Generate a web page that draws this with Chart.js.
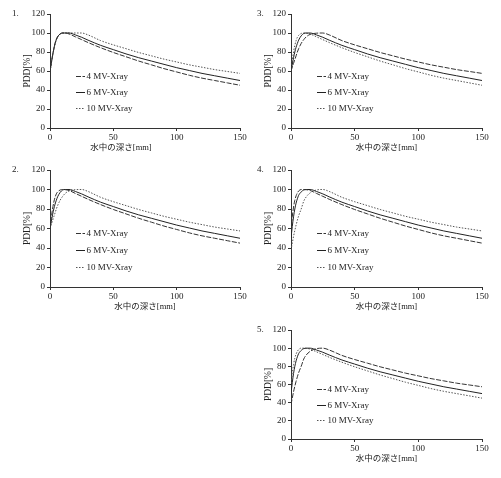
<!DOCTYPE html>
<html lang="ja">
<head>
<meta charset="UTF-8">
<title>PDD</title>
<script src="https://cdn.jsdelivr.net/npm/chart.js"></script>
<style>
  body { margin: 0; background: #fff; }
  #wrap { position: relative; width: 501px; height: 478px; }
  canvas { position: absolute; }
</style>
</head>
<body>
<div id="wrap">
  <canvas id="c1" width="252" height="158" style="left:0px;top:0px"></canvas>
  <canvas id="c3" width="253" height="158" style="left:241px;top:0px"></canvas>
  <canvas id="c2" width="252" height="161" style="left:0px;top:156px"></canvas>
  <canvas id="c4" width="253" height="161" style="left:241px;top:156px"></canvas>
  <canvas id="c5" width="253" height="153" style="left:241px;top:316px"></canvas>
</div>
<script>
// depth in water [mm]
const depth = [0, 1, 2, 3, 4, 5, 6, 8, 10, 12, 15, 20, 25, 30, 40, 50, 60, 70, 80, 90, 100, 110, 120, 130, 140, 150];

const seriesLabels = ['4 MV-Xray', '6 MV-Xray', '10 MV-Xray'];
const xTicks = [0, 50, 100, 150];
const yTicks = [0, 20, 40, 60, 80, 100, 120];

// panel 1: same build-up for all energies
const a4  = [59, 68, 76, 83, 89, 93, 96, 99, 100, 100, 99, 96, 93, 90, 84.5, 79.5, 75, 70.5, 66.5, 62.5, 59, 55.5, 52.5, 50, 47.5, 45];
const a6  = [59, 68, 76, 83, 89, 93, 96, 99, 100, 100, 100, 98, 95.5, 92.5, 87, 82.5, 78, 74, 70.5, 67, 63.5, 60.5, 57.5, 55, 52.5, 50];
const a10 = [59, 68, 76, 83, 89, 93, 96, 99, 100, 100, 100, 100, 100, 98, 92, 87.5, 83.5, 79.5, 76, 72.5, 69.5, 66.5, 64, 61.5, 59.5, 57.5];

// panels 2 and 3: same surface dose
const b4  = [60, 71, 80, 87, 92, 95.5, 97.5, 99.5, 100, 99.8, 99, 96, 93, 90, 84.5, 79.5, 75, 70.5, 66.5, 62.5, 59, 55.5, 52.5, 50, 47.5, 45];
const b6  = [60, 67, 74, 80, 85, 89, 92.5, 97, 99.5, 100, 100, 98, 95.5, 92.5, 87, 82.5, 78, 74, 70.5, 67, 63.5, 60.5, 57.5, 55, 52.5, 50];
const b10 = [60, 64, 68, 72, 76, 80, 83.5, 89, 93, 96, 98.5, 99.8, 100, 98, 92, 87.5, 83.5, 79.5, 76, 72.5, 69.5, 66.5, 64, 61.5, 59.5, 57.5];

// panels 4 and 5: different surface dose
const c4  = [58, 72, 82, 89, 93.5, 96.5, 98.5, 100, 100, 99.8, 99, 96, 93, 90, 84.5, 79.5, 75, 70.5, 66.5, 62.5, 59, 55.5, 52.5, 50, 47.5, 45];
const c6  = [50, 62, 72, 80, 86, 90.5, 94, 97.5, 99.5, 100, 100, 98, 95.5, 92.5, 87, 82.5, 78, 74, 70.5, 67, 63.5, 60.5, 57.5, 55, 52.5, 50];
const c10 = [38, 45, 52, 58, 63.5, 68.5, 73, 80, 88, 92.5, 96.5, 99.5, 100, 98, 92, 87.5, 83.5, 79.5, 76, 72.5, 69.5, 66.5, 64, 61.5, 59.5, 57.5];

const lineColors = ['#333', '#222', '#555'];
const lineDashes = [[5, 1.5], [], [1.5, 1.5]];
const serif = "'Liberation Serif', 'Noto Sans CJK JP', serif";
const textColor = '#222';

const deco = {
    id: 'deco',
    afterDraw(chart, args, opts) {
        const ctx = chart.ctx;
        const area = chart.chartArea;
        ctx.save();
        ctx.fillStyle = textColor;
        ctx.font = '9px ' + serif;
        ctx.textBaseline = 'middle';

        // panel number
        ctx.textAlign = 'left';
        ctx.fillText(opts.num + '.', area.left + opts.numX, area.top);

        // x axis title
        ctx.font = "8.5px 'Liberation Serif', 'Noto Sans CJK JP', serif";
        ctx.textAlign = 'center';
        const tx = opts.titleX != null ? area.left + opts.titleX : (area.left + area.right) / 2;
        ctx.fillText('水中の深さ[mm]', tx, area.bottom + 20);

        // legend inside the plot
        ctx.font = '9px ' + serif;
        const rows = [0.54, 0.685, 0.825];
        chart.data.datasets.forEach((ds, i) => {
            const y = Math.round(area.top + area.height * rows[i]) + 0.5;
            ctx.strokeStyle = ds.borderColor;
            ctx.lineWidth = 1;
            ctx.setLineDash(ds.borderDash);
            ctx.beginPath();
            ctx.moveTo(area.left + 26, y);
            ctx.lineTo(area.left + 35, y);
            ctx.stroke();
            ctx.setLineDash([]);
            ctx.textAlign = 'left';
            ctx.fillText(ds.label, area.left + 36.5, y);
        });
        ctx.restore();
    }
};

function makeChart(id, num, curves, numX, titleX) {
    new Chart(document.getElementById(id), {
        type: 'line',
        data: {
            datasets: curves.map((c, i) => ({
                label: seriesLabels[i],
                data: depth.map((d, k) => ({ x: d, y: c[k] })),
                borderColor: lineColors[i],
                borderDash: lineDashes[i],
                borderWidth: 1,
                pointRadius: 0,
                cubicInterpolationMode: 'monotone',
                fill: false
            }))
        },
        options: {
            responsive: false,
            animation: false,
            layout: { padding: { top: 14, right: 12, left: 0, bottom: 0 } },
            plugins: {
                legend: { display: false },
                tooltip: { enabled: false },
                deco: { num: num, numX: numX, titleX: titleX }
            },
            scales: {
                x: {
                    type: 'linear',
                    min: xTicks[0],
                    max: xTicks[xTicks.length - 1],
                    afterFit: s => { s.height = 30; },
                    afterBuildTicks: s => { s.ticks = xTicks.map(v => ({ value: v })); },
                    ticks: { font: { family: serif, size: 9 }, color: textColor, padding: 1, maxRotation: 0 },
                    grid: { drawOnChartArea: false, tickLength: 3, color: '#333' },
                    border: { color: '#333', width: 1 }
                },
                y: {
                    min: yTicks[0],
                    max: yTicks[yTicks.length - 1],
                    afterFit: s => { s.width = 50; },
                    afterBuildTicks: s => { s.ticks = yTicks.map(v => ({ value: v })); },
                    ticks: { font: { family: serif, size: 9 }, color: textColor, padding: 2 },
                    grid: { drawOnChartArea: false, tickLength: 3, color: '#333' },
                    border: { color: '#333', width: 1 },
                    title: {
                        display: true,
                        text: 'PDD[%]',
                        color: textColor,
                        font: { family: serif, size: 9.5 },
                        padding: { top: 22, bottom: 0 }
                    }
                }
            }
        },
        plugins: [deco]
    });
}

makeChart('c1', 1, [a4, a6, a10], -38, 71);
makeChart('c2', 2, [b4, b6, b10], -38, null);
makeChart('c3', 3, [b10, b6, b4], -34, null);
makeChart('c4', 4, [c4, c6, c10], -34, null);
makeChart('c5', 5, [c10, c6, c4], -34, null);
</script>
</body>
</html>
